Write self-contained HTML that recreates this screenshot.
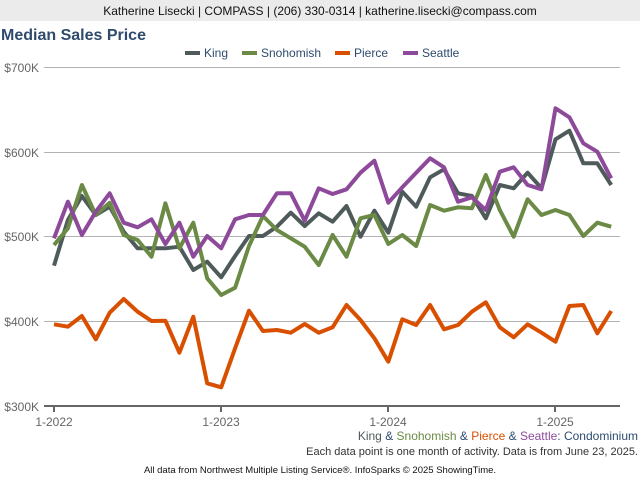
<!DOCTYPE html>
<html><head><meta charset="utf-8"><style>
body{margin:0;width:640px;height:480px;background:#fff;overflow:hidden;font-family:"Liberation Sans",Arial,sans-serif}
</style></head><body>
<svg width="640" height="480" viewBox="0 0 640 480" xmlns="http://www.w3.org/2000/svg" font-family="Liberation Sans, Arial, sans-serif">
<rect x="0" y="0" width="640" height="21" fill="#ebebeb"/>
<text x="320" y="15" font-size="12" text-anchor="middle" fill="#111">Katherine Lisecki | COMPASS | (206) 330-0314 | katherine.lisecki@compass.com</text>
<text x="1" y="40" font-size="16" font-weight="bold" fill="#2e4b6e">Median Sales Price</text>
<g font-size="12" fill="#2e4b6e">
<rect x="185" y="51" width="15" height="4" fill="#4f5b5b"/><text x="204" y="57">King</text>
<rect x="242" y="51" width="15" height="4" fill="#6a8a45"/><text x="261" y="57">Snohomish</text>
<rect x="335" y="51" width="15" height="4" fill="#d94f00"/><text x="354" y="57">Pierce</text>
<rect x="403" y="51" width="15" height="4" fill="#8e4a9a"/><text x="422" y="57">Seattle</text>
</g>
<g stroke="#b3b3b3" stroke-width="1">
<line x1="44" y1="67.5" x2="620" y2="67.5"/><line x1="44" y1="152.5" x2="620" y2="152.5"/>
<line x1="44" y1="236.5" x2="620" y2="236.5"/><line x1="44" y1="321.5" x2="620" y2="321.5"/>
</g>
<line x1="44" y1="406" x2="620" y2="406" stroke="#666" stroke-width="2"/>
<g stroke="#666" stroke-width="2"><line x1="54" y1="406" x2="54" y2="412"/><line x1="221" y1="406" x2="221" y2="412"/><line x1="388" y1="406" x2="388" y2="412"/><line x1="555" y1="406" x2="555" y2="412"/></g>
<g font-size="12" fill="#666" text-anchor="end">
<text x="39" y="72">$700K</text><text x="39" y="157">$600K</text><text x="39" y="241">$500K</text><text x="39" y="326">$400K</text><text x="39" y="411">$300K</text>
</g>
<g font-size="12" fill="#666" text-anchor="middle">
<text x="54" y="426">1-2022</text><text x="221" y="426">1-2023</text><text x="388" y="426">1-2024</text><text x="555" y="426">1-2025</text>
</g>
<g fill="none" stroke-width="4" stroke-linejoin="round">
<polyline id="king" stroke="#4f5b5b" points=""/>
<polyline id="sno" stroke="#6a8a45" points=""/>
<polyline id="pie" stroke="#d94f00" points=""/>
<polyline id="sea" stroke="#8e4a9a" points=""/>
</g>
<text x="638" y="440" font-size="12" text-anchor="end" fill="#2e4b6e"><tspan fill="#4f5b5b">King</tspan> &amp; <tspan fill="#6a8a45">Snohomish</tspan> &amp; <tspan fill="#d94f00">Pierce</tspan> &amp; <tspan fill="#8e4a9a">Seattle</tspan>: Condominium</text>
<text x="638" y="455" font-size="11" text-anchor="end" fill="#333">Each data point is one month of activity. Data is from June 23, 2025.</text>
<text x="320" y="473" font-size="9.5" text-anchor="middle" fill="#111">All data from Northwest Multiple Listing Service®. InfoSparks © 2025 ShowingTime.</text>
</svg>
<script>
var d={
king:[265.7,220,196,215,206.7,231.7,248.3,248.3,248.3,246.7,270,261.7,277.3,256,236,236,226.7,212.7,226,213.3,221.7,206,236.7,210.7,232.7,191.7,206.7,177.3,169.3,193.3,196,218.3,185,188.3,172.7,188.3,139.3,130.7,163.3,163.3,185],
sno:[245,228.3,185,215,202.7,235,240,256.7,203.3,248.3,222.7,278.3,295,287.7,246,216,230,238.3,246.7,265,235,256.7,218.3,215,244,235,246,205,210.7,207.3,208.3,175,210,236.7,199.3,215,210,215,236,222.7,226.7],
pie:[324.3,326.7,316,339.3,312.7,299,311.7,321,320.7,352.7,316.7,383.3,387.3,348.3,310.7,331,330,332.7,324,332.7,327.3,305,320,338.3,361.7,319.3,325,305,329.3,325,311.7,302.3,327.3,337.3,324.3,332.7,341.7,306,305,333.3,311],
sea:[238.3,201.7,235,211.7,193.3,222.7,227.3,219.3,244,222.7,256.7,236,248.3,219.3,215,215,193.3,193.3,220.7,188.3,194,189.3,172.7,160.7,202.7,187.3,172.7,158.3,167.3,201.7,197.3,210,171.7,167.3,185,189.3,108.3,117.3,143.3,151.7,178.3]};
for(var k in d){document.getElementById(k).setAttribute('points',d[k].map(function(y,i){return (54+i*13.93).toFixed(1)+','+y}).join(' '));}
</script>
</body></html>
